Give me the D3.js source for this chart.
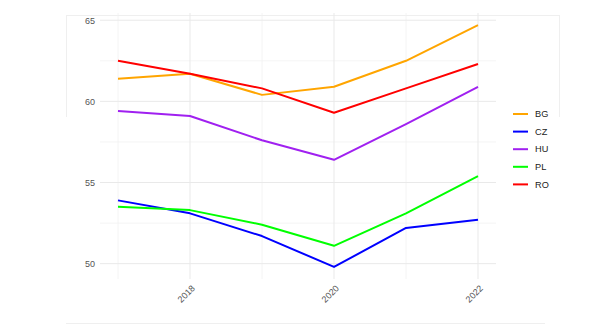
<!DOCTYPE html>
<html>
<head>
<meta charset="utf-8">
<script src="https://cdn.jsdelivr.net/npm/d3@7"></script>
<style>
  html, body { margin: 0; padding: 0; background: #ffffff; }
  svg { display: block; font-family: "Liberation Sans", Arial, sans-serif; }
</style>
</head>
<body>
<svg id="chart" width="598" height="332"></svg>
<script>
// Years on the x axis
const years = [2017, 2018, 2019, 2020, 2021, 2022];
// Country codes, in legend order
const countries = ["BG", "CZ", "HU", "PL", "RO"];
// Values per country, one per year
const valuesBG = [61.4, 61.7, 60.4, 60.9, 62.5, 64.7];
const valuesCZ = [53.9, 53.1, 51.7, 49.8, 52.2, 52.7];
const valuesHU = [59.4, 59.1, 57.6, 56.4, 58.6, 60.9];
const valuesPL = [53.5, 53.3, 52.4, 51.1, 53.1, 55.4];
const valuesRO = [62.5, 61.7, 60.8, 59.3, 60.8, 62.3];
// Tick values
const xTicks = [2018, 2020, 2022];
const xMinor = [2017, 2019, 2021];
const yTicks = [50, 55, 60, 65];
const yMinor = [52.5, 57.5, 62.5];

const colors = { BG: "#FFA500", CZ: "#0000FF", HU: "#A020F0", PL: "#00FF00", RO: "#FF0000" };
const seriesValues = { BG: valuesBG, CZ: valuesCZ, HU: valuesHU, PL: valuesPL, RO: valuesRO };

const svg = d3.select("#chart");

// Panel extents with 5% padding around the data range
const allVals = [].concat(valuesBG, valuesCZ, valuesHU, valuesPL, valuesRO);
const yMin = d3.min(allVals), yMax = d3.max(allVals);
const yPad = (yMax - yMin) * 0.05;
const xPad = (d3.max(years) - d3.min(years)) * 0.05;

const panel = { left: 100, right: 496, top: 13, bottom: 279 };

const x = d3.scaleLinear()
  .domain([d3.min(years) - xPad, d3.max(years) + xPad])
  .range([panel.left, panel.right]);
const y = d3.scaleLinear()
  .domain([yMin - yPad, yMax + yPad])
  .range([panel.bottom, panel.top]);

// Faint outer frame
const frame = svg.append("g").attr("stroke", "#efefef").attr("stroke-width", 1).attr("fill", "none");
frame.append("line").attr("x1", 66).attr("x2", 559).attr("y1", 15.5).attr("y2", 15.5);
frame.append("line").attr("x1", 66.5).attr("x2", 66.5).attr("y1", 15).attr("y2", 117);
frame.append("line").attr("x1", 559.5).attr("x2", 559.5).attr("y1", 15).attr("y2", 117);
frame.append("line").attr("x1", 66).attr("x2", 545).attr("y1", 323.5).attr("y2", 323.5);

// Grid lines
const grid = svg.append("g");
grid.selectAll("line.ymin").data(yMinor).join("line")
  .attr("x1", panel.left).attr("x2", panel.right)
  .attr("y1", d => y(d)).attr("y2", d => y(d))
  .attr("stroke", "#f1f1f1").attr("stroke-width", 0.8);
grid.selectAll("line.xmin").data(xMinor).join("line")
  .attr("y1", panel.top).attr("y2", panel.bottom)
  .attr("x1", d => x(d)).attr("x2", d => x(d))
  .attr("stroke", "#f1f1f1").attr("stroke-width", 0.8);
grid.selectAll("line.ymaj").data(yTicks).join("line")
  .attr("x1", panel.left).attr("x2", panel.right)
  .attr("y1", d => y(d)).attr("y2", d => y(d))
  .attr("stroke", "#e9e9e9").attr("stroke-width", 1);
grid.selectAll("line.xmaj").data(xTicks).join("line")
  .attr("y1", panel.top).attr("y2", panel.bottom)
  .attr("x1", d => x(d)).attr("x2", d => x(d))
  .attr("stroke", "#e9e9e9").attr("stroke-width", 1);

// Y axis labels
const yAxis = d3.axisLeft(y).tickValues(yTicks).tickSize(0).tickPadding(5).tickFormat(d3.format("d"));
svg.append("g").attr("transform", `translate(${panel.left},0)`).call(yAxis)
  .call(g => g.select(".domain").remove())
  .call(g => g.selectAll("text").attr("fill", "#555555").style("font-size", "9px")
    .style("font-family", "'Liberation Sans', Arial, sans-serif"));

// X axis labels, rotated 45°
const xAxis = d3.axisBottom(x).tickValues(xTicks).tickSize(0).tickFormat(d3.format("d"));
svg.append("g").attr("transform", `translate(0,${panel.bottom})`).call(xAxis)
  .call(g => g.select(".domain").remove())
  .call(g => g.selectAll("text")
    .attr("fill", "#555555").style("font-size", "9px")
    .style("font-family", "'Liberation Sans', Arial, sans-serif")
    .attr("text-anchor", "end").attr("dy", null).attr("y", null)
    .attr("transform", "translate(5,10) rotate(-45)"));

// Lines
const line = d3.line().x((d, i) => x(years[i])).y(d => y(d));
svg.append("g").selectAll("path").data(countries).join("path")
  .attr("d", c => line(seriesValues[c]))
  .attr("fill", "none")
  .attr("stroke", c => colors[c])
  .attr("stroke-width", 2)
  .attr("stroke-linejoin", "round");

// Legend
const legend = svg.append("g").attr("transform", "translate(513,114)");
const item = legend.selectAll("g").data(countries).join("g")
  .attr("transform", (d, i) => `translate(0,${i * 17.6})`);
item.append("line").attr("x1", 0).attr("x2", 15).attr("y1", 0).attr("y2", 0)
  .attr("stroke", d => colors[d]).attr("stroke-width", 2);
item.append("text").attr("x", 22).attr("y", 0).attr("dy", "0.35em")
  .attr("fill", "#222222").style("font-size", "9.2px").text(d => d);
</script>
</body>
</html>
